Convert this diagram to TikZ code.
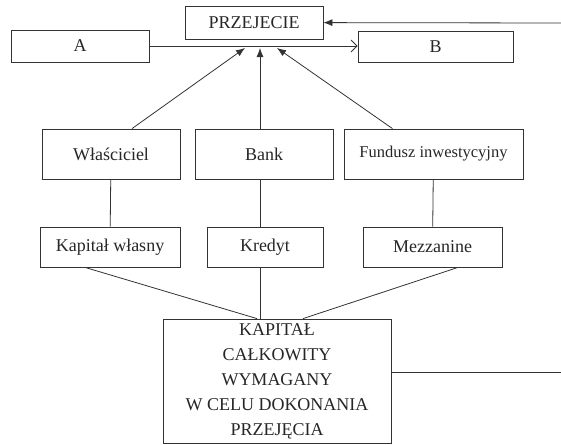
\documentclass[tikz,border=0pt]{standalone}
\usepackage{fontspec}
\setmainfont{Liberation Serif}
\usetikzlibrary{arrows.meta}
\tikzset{
	box/.style={draw=black!80, line width=0.8pt, text=black!85, inner sep=2pt, font=\fontsize{18}{25}\selectfont},
	link/.style={draw=black!80, line width=0.8pt},
	arr/.style={link, -{Latex[length=9pt,width=7pt]}},
	barb/.style={link, -{Straight Barb[length=6pt,width=12pt]}}
}

\begin{document}
\begin{tikzpicture}[x=1pt,y=-1pt]
		\useasboundingbox (0,0) rectangle (561,444);
		%%%%% START %%%%%
		
		\node[box, minimum width=138pt, minimum height=33pt] (przejecie) at (254, 22.5) {PRZEJECIE};
		\node[box, minimum width=138pt, minimum height=32pt] (a) at (80, 46) {A};
		\node[box, minimum width=155pt, minimum height=31pt] (b) at (435.5, 46.5) {B};
		
		\node[box, minimum width=138pt, minimum height=50pt] (wlasciciel) at (111, 154) {Właściciel};
		\node[box, minimum width=138pt, minimum height=50pt] (bank) at (264, 154) {Bank};
		\node[box, minimum width=179pt, minimum height=50pt, font=\fontsize{16.5}{20}\selectfont] (fundusz) at (433.5, 154) {Fundusz inwestycyjny};
		
		\node[box, minimum width=140pt, minimum height=40pt] (wlasny) at (110, 247) {Kapitał własny};
		\node[box, minimum width=116pt, minimum height=40pt] (kredyt) at (265, 247) {Kredyt};
		\node[box, minimum width=139pt, minimum height=40pt] (mezzanine) at (432.5, 247) {Mezzanine};
		
		\node[box, minimum width=228pt, minimum height=124pt, align=center] (calkowity) at (277, 381)
			{KAPITAŁ\\CAŁKOWITY\\WYMAGANY\\W CELU DOKONANIA\\PRZEJĘCIA};
		
		\coordinate (wej) at (561, 23);
		\coordinate (wyj) at (561, 372);
		\coordinate (t1) at (245, 48);
		\coordinate (t2) at (260, 48);
		\coordinate (t3) at (277, 48);
		
		\draw[arr] (wej) -- (przejecie);
		\draw[barb] (a.east) -- (a.east -| b.west);
		
		\draw[arr] ([xshift=21pt]wlasciciel.north) -- (t1);
		\draw[arr] ([xshift=-4pt]bank.north) -- (t2);
		\draw[arr] ([xshift=-41pt]fundusz.north) -- (t3);
		
		\draw[link] (wlasciciel) -- (wlasny);
		\draw[link] ([xshift=-4pt]bank.south) -- ([xshift=-5pt]kredyt.north);
		\draw[link] (fundusz) -- (mezzanine);
		
		\draw[link] ([xshift=-25pt]wlasny.south) -- ([xshift=-20pt]calkowity.north);
		\draw[link] ([xshift=-5pt]kredyt.south) -- ([xshift=-17pt]calkowity.north);
		\draw[link] ([xshift=25.5pt]mezzanine.south) -- ([xshift=26pt]calkowity.north);
		
		\draw[link] (calkowity.east |- wyj) -- (wyj);
		
		%%%%% END %%%%%
\end{tikzpicture}
\end{document}
